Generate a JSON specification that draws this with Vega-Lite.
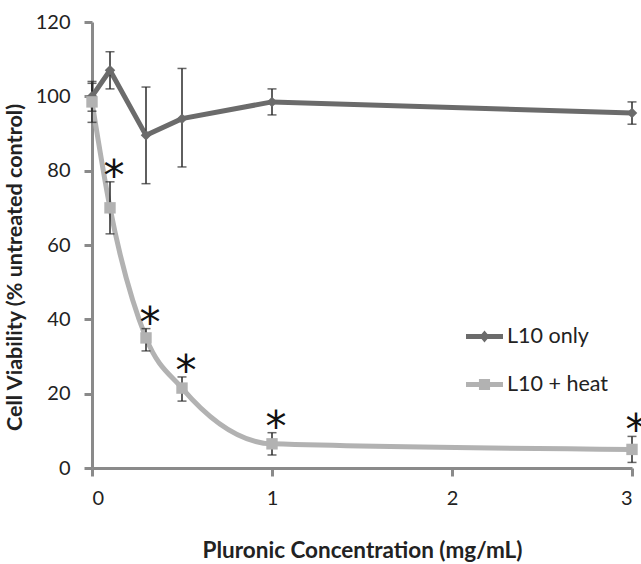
{
  "$schema": "https://vega.github.io/schema/vega-lite/v6.json",
  "width": 540,
  "height": 446,
  "autosize": {"type": "none"},
  "padding": {"left": 92, "top": 22, "right": 9, "bottom": 96},
  "config": {
    "view": {"stroke": null},
    "font": "Lato",
    "axis": {
      "grid": false,
      "domainColor": "#8a8a8a",
      "domainWidth": 3,
      "tickColor": "#8a8a8a",
      "tickWidth": 3,
      "tickSize": 8,
      "labelFont": "Lato",
      "labelFontSize": 20,
      "labelColor": "#222222",
      "titleFont": "Lato",
      "titleFontSize": 21.6,
      "titleFontWeight": "bold",
      "titleColor": "#222222"
    }
  },
  "data": {
    "values": [
      {"series": "L10 only", "conc": 0, "v": 100, "lo": 96, "hi": 104, "sig": false},
      {"series": "L10 only", "conc": 0.1, "v": 107, "lo": 102, "hi": 112, "sig": false},
      {"series": "L10 only", "conc": 0.3, "v": 89.5, "lo": 76.5, "hi": 102.5, "sig": false},
      {"series": "L10 only", "conc": 0.5, "v": 94, "lo": 81, "hi": 107.5, "sig": false},
      {"series": "L10 only", "conc": 1, "v": 98.5, "lo": 95, "hi": 102, "sig": false},
      {"series": "L10 only", "conc": 3, "v": 95.5, "lo": 92.5, "hi": 98.5, "sig": false},
      {"series": "L10 + heat", "conc": 0, "v": 98.5, "lo": 93, "hi": 103.5, "sig": false},
      {"series": "L10 + heat", "conc": 0.1, "v": 70, "lo": 63, "hi": 77, "sig": true},
      {"series": "L10 + heat", "conc": 0.3, "v": 35, "lo": 31.5, "hi": 37.5, "sig": true},
      {"series": "L10 + heat", "conc": 0.5, "v": 21.5, "lo": 18, "hi": 24.5, "sig": true},
      {"series": "L10 + heat", "conc": 1, "v": 6.5, "lo": 3.5, "hi": 9.5, "sig": true},
      {"series": "L10 + heat", "conc": 3, "v": 5, "lo": 1.5, "hi": 8.5, "sig": true}
    ]
  },
  "encoding": {
    "x": {
      "field": "conc",
      "type": "quantitative",
      "scale": {"domain": [0, 3], "nice": false, "zero": false},
      "axis": {
        "values": [0, 1, 2, 3],
        "format": "d",
        "labelPadding": 12,
        "title": "Pluronic Concentration (mg/mL)",
        "titleFontSize": 22.5,
        "titlePadding": 31
      }
    }
  },
  "layer": [
    {
      "transform": [{"filter": "datum.series == 'L10 only'"}],
      "mark": {"type": "line", "color": "#6b6b6b", "strokeWidth": 5, "interpolate": "linear"},
      "encoding": {
        "y": {
          "field": "v",
          "type": "quantitative",
          "title": "Cell Viability (% untreated control)",
          "scale": {"domain": [0, 120], "nice": false},
          "axis": {
            "values": [0, 20, 40, 60, 80, 100, 120],
            "labelPadding": 14,
            "titleX": -66,
            "titleY": 245
          }
        }
      }
    },
    {
      "transform": [{"filter": "datum.series == 'L10 + heat'"}],
      "mark": {"type": "line", "color": "#b2b2b2", "strokeWidth": 5, "interpolate": "monotone"},
      "encoding": {"y": {"field": "v", "type": "quantitative", "title": "Cell Viability (% untreated control)"}}
    },
    {
      "mark": {
        "type": "errorbar",
        "color": "#2a2a2a",
        "thickness": 1.5,
        "ticks": {"size": 9, "thickness": 1.5, "color": "#2a2a2a"}
      },
      "encoding": {
        "y": {"field": "lo", "type": "quantitative", "title": "Cell Viability (% untreated control)"},
        "y2": {"field": "hi", "title": "Cell Viability (% untreated control)"}
      }
    },
    {
      "transform": [{"filter": "datum.series == 'L10 only'"}],
      "mark": {"type": "point", "shape": "diamond", "filled": true, "color": "#6b6b6b", "size": 110, "opacity": 1},
      "encoding": {"y": {"field": "v", "type": "quantitative", "title": "Cell Viability (% untreated control)"}}
    },
    {
      "transform": [{"filter": "datum.series == 'L10 + heat'"}],
      "mark": {"type": "point", "shape": "square", "filled": true, "color": "#b2b2b2", "size": 130, "opacity": 1},
      "encoding": {"y": {"field": "v", "type": "quantitative", "title": "Cell Viability (% untreated control)"}}
    },
    {
      "transform": [{"filter": "datum.sig"}],
      "mark": {"type": "text", "text": "*", "font": "DejaVu Sans", "fontSize": 42, "color": "#111111", "baseline": "alphabetic", "dx": 4, "dy": 8},
      "encoding": {"y": {"field": "hi", "type": "quantitative", "title": "Cell Viability (% untreated control)"}}
    },
    {
      "mark": {"type": "point", "filled": true, "opacity": 0, "size": 1369},
      "encoding": {
        "y": {"field": "v", "type": "quantitative", "title": "Cell Viability (% untreated control)"},
        "color": {
          "field": "series",
          "type": "nominal",
          "scale": {"domain": ["L10 only", "L10 + heat"], "range": ["#6b6b6b", "#b2b2b2"]},
          "legend": {
            "title": null,
            "orient": "none",
            "legendX": 374,
            "legendY": 296,
            "symbolSize": 1369,
            "symbolOpacity": 1,
            "symbolStrokeWidth": 0,
            "labelFont": "Lato",
            "labelFontSize": 21.5,
            "labelColor": "#222222",
            "labelOffset": 4,
            "rowPadding": 19
          }
        },
        "shape": {
          "field": "series",
          "type": "nominal",
          "scale": {
            "domain": ["L10 only", "L10 + heat"],
            "range": [
              "M-1,-0.13H1V0.13H-1Z M0,-0.33L0.27,0L0,0.33L-0.27,0Z",
              "M-1,-0.13H1V0.13H-1Z M-0.3,-0.3H0.3V0.3H-0.3Z"
            ]
          },
          "legend": {
            "title": null,
            "orient": "none",
            "legendX": 374,
            "legendY": 296,
            "symbolSize": 1369,
            "symbolOpacity": 1,
            "symbolStrokeWidth": 0,
            "labelFont": "Lato",
            "labelFontSize": 21.5,
            "labelColor": "#222222",
            "labelOffset": 4,
            "rowPadding": 19
          }
        }
      }
    }
  ]
}
